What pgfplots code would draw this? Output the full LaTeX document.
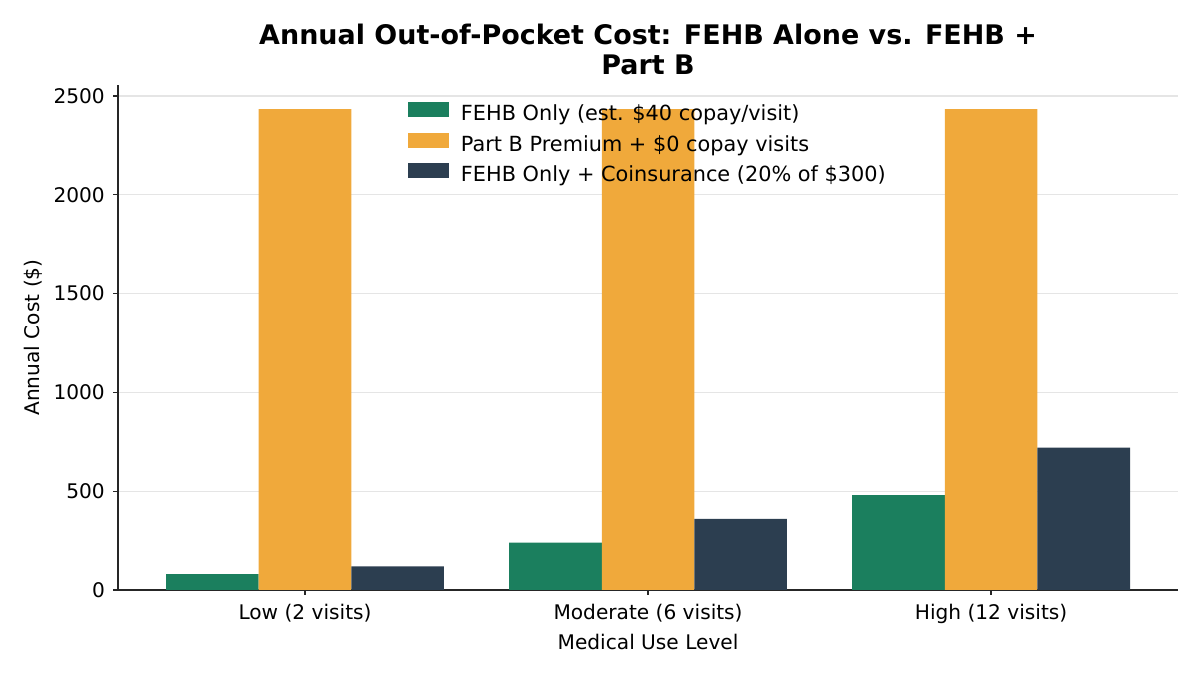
\documentclass[border=0pt]{standalone}
\usepackage{fontspec}
\setmainfont{DejaVu Sans}
\usepackage{pgfplots}
\pgfplotsset{compat=1.18}

\definecolor{fehbgreen}{HTML}{1B7F5E}
\definecolor{partborange}{HTML}{F0A93B}
\definecolor{coinsnavy}{HTML}{2C3E50}

\begin{document}
\begin{tikzpicture}
% figure canvas 864pt x 486pt (1200 x 675 px)
\path (-85pt,-61.2pt) rectangle (779pt,424.8pt);
\begin{axis}[
    at={(0,0)}, anchor=south west,
    scale only axis,
    width=763.2pt,
    height=363.6pt,
    ybar,
    bar width=0.27,
    xmin=-0.545, xmax=2.545,
    ymin=0, ymax=2556,
    xtick={0,1,2},
    xticklabels={Low (2 visits),Moderate (6 visits),High (12 visits)},
    ytick={0,500,1000,1500,2000,2500},
    axis x line*=bottom,
    axis y line*=left,
    axis line style={black!85, line width=0.9pt},
    tick align=outside,
    major tick length=3.5pt,
    tick style={black!85, line width=0.9pt},
    ymajorgrids=true,
    grid style={line width=0.8pt, draw=gray!20},
    tick label style={font=\fontsize{14.5}{17}\selectfont},
    xticklabel style={yshift=-3pt},
    yticklabel style={xshift=-2.5pt},
    /pgf/number format/assume math mode=true,
    /pgf/number format/1000 sep={},
    xlabel={Medical Use Level},
    ylabel={Annual Cost (\$)},
    label style={font=\fontsize{14.5}{17}\selectfont},
    xlabel style={yshift=-1pt},
    ylabel style={yshift=1pt},
    title={\textbf{Annual Out-of-Pocket Cost: FEHB Alone vs. FEHB +}\\\textbf{Part B}},
    title style={font=\fontsize{19.4}{21}\selectfont, align=center, yshift=-2pt},
    legend style={at={(0.5,0.972)}, anchor=north, draw=none, fill=none,
        font=\fontsize{15}{17}\selectfont, row sep=5pt,
        /tikz/every odd column/.append style={column sep=6.5pt}},
    legend cell align=left,
    legend image code/.code={\draw[#1, draw=none] (0pt,-2.5pt) rectangle (30pt,8.3pt);},
]
\addplot[fill=fehbgreen, draw=none, bar shift=-0.27] coordinates {(0,80) (1,240) (2,480)};
\addlegendentry{FEHB Only (est. \$40 copay/visit)}
\addplot[fill=partborange, draw=none, bar shift=0] coordinates {(0,2434) (1,2434) (2,2434)};
\addlegendentry{Part B Premium + \$0 copay visits}
\addplot[fill=coinsnavy, draw=none, bar shift=0.27] coordinates {(0,120) (1,360) (2,720)};
\addlegendentry{FEHB Only + Coinsurance (20\% of \$300)}
\end{axis}
\end{tikzpicture}
\end{document}
